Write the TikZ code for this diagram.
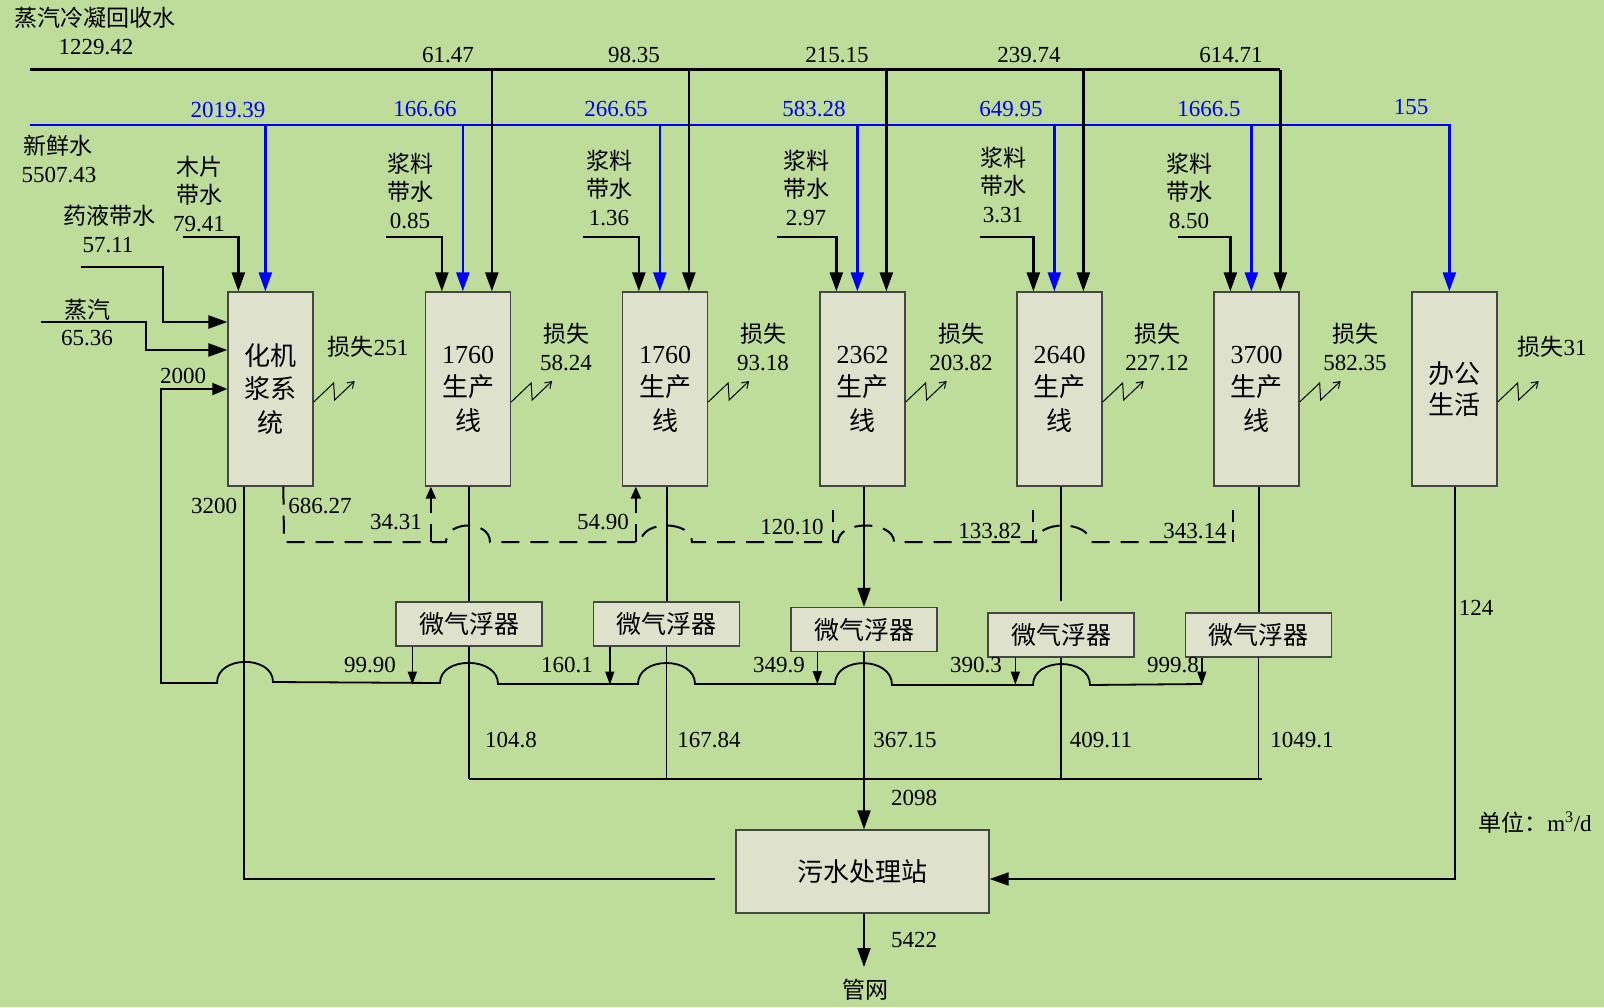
\documentclass[tikz,border=0pt]{standalone}
\usepackage{fontspec}
\setmainfont{Liberation Serif}
\newfontfamily\cjk{Noto Sans CJK SC}
\newcommand\zhtxt[1]{{\cjk #1}}
\usetikzlibrary{arrows.meta,calc}
\definecolor{bgc}{RGB}{190,220,154}
\definecolor{boxc}{RGB}{222,226,204}
\definecolor{boxl}{RGB}{70,70,70}
\definecolor{flowblue}{RGB}{0,0,255}
\begin{document}
\begin{tikzpicture}[x=1pt,y=-1pt,
  unit/.style={draw=boxl,fill=boxc,line width=1.3pt,minimum width=85pt,minimum height=194pt,inner sep=0pt,align=center,font=\fontsize{26}{33.5}\selectfont},
  flot/.style={draw=boxl,fill=boxc,line width=1.3pt,minimum width=146pt,minimum height=44pt,inner sep=0pt,font=\fontsize{25}{30}\selectfont},
  lbl/.style={inner sep=0pt,align=center,font=\fontsize{23}{28}\selectfont},
  bluelbl/.style={lbl,text=flowblue},
  mainln/.style={line width=2.4pt},
  blueln/.style={line width=2.4pt,draw=flowblue},
  midln/.style={line width=2pt},
  thinln/.style={line width=1.3pt},
  retln/.style={line width=1.8pt},
  dashln/.style={line width=2pt,dash pattern=on 18pt off 11pt},
  shortdash/.style={line width=2pt,dash pattern=on 12pt off 8pt},
  bigarr/.style={-{Triangle[length=19pt,width=13pt]}},
  medarr/.style={-{Triangle[length=15pt,width=12pt]}},
  smallarr/.style={-{Triangle[length=13pt,width=9pt]}},
  dasharr/.style={-{Triangle[length=12pt,width=10pt]}},
  zz/.style={line width=1pt,-{Straight Barb[length=6pt,width=8pt]}},
]
\fill[bgc] (0,0) rectangle (1604,1007);
\useasboundingbox (0,0) rectangle (1604,1007);

% process units
\node[unit] (box1) at (270.5,389) {\zhtxt{化机}\\\zhtxt{浆系}\\\zhtxt{统}};
\node[unit] (box2) at (468,389) {1760\\\zhtxt{生产}\\\zhtxt{线}};
\node[unit] (box3) at (665,389) {1760\\\zhtxt{生产}\\\zhtxt{线}};
\node[unit] (box4) at (862.5,389) {2362\\\zhtxt{生产}\\\zhtxt{线}};
\node[unit] (box5) at (1059.5,389) {2640\\\zhtxt{生产}\\\zhtxt{线}};
\node[unit] (box6) at (1256.5,389) {3700\\\zhtxt{生产}\\\zhtxt{线}};
\node[unit,font=\fontsize{26}{31}\selectfont] (office) at (1454.5,389) {\zhtxt{办公}\\\zhtxt{生活}};

\node[flot] (f1) at (469,624) {\zhtxt{微气浮器}};
\node[flot] (f2) at (666.5,624) {\zhtxt{微气浮器}};
\node[flot] (f3) at (864,629.5) {\zhtxt{微气浮器}};
\node[flot] (f4) at (1061,635) {\zhtxt{微气浮器}};
\node[flot] (f5) at (1258.5,635) {\zhtxt{微气浮器}};

\node[draw=boxl,fill=boxc,line width=1.3pt,minimum width=253pt,minimum height=83pt,inner sep=0pt,font=\fontsize{26}{30}\selectfont] (wwtp) at (862.5,871.5) {\zhtxt{污水处理站}};

% supply lines
\coordinate (tl) at (30,69.5);
\coordinate (bl) at (30,125);
\coordinate (office-w) at ($(office.north west)+(38,0)$);
\draw[blueln,bigarr] (bl) -| (office-w);
\coordinate (box1-w) at ($(box1.north west)+(38,0)$);
\coordinate (box1-s) at ($(box1.north west)+(11,0)$);
\coordinate (mp) at (183,237);
\draw[mainln,bigarr] (mp) -| (box1-s);
\draw[blueln,bigarr] (box1-w |- bl) -- (box1-w);
\foreach \b/\sx in {box2/386,box3/583,box4/777,box5/980,box6/1178}{
  \coordinate (\b-k) at ($(\b.north west)+(67,0)$);
  \coordinate (\b-w) at ($(\b.north west)+(38,0)$);
  \coordinate (\b-s) at ($(\b.north west)+(17,0)$);
  \coordinate (\b-in) at (\sx,237);
  \draw[mainln,bigarr] (\b-k |- tl) -- (\b-k);
  \draw[blueln,bigarr] (\b-w |- bl) -- (\b-w);
  \draw[mainln,bigarr] (\b-in) -| (\b-s);
}
\draw[mainln] (tl) -- (box6-k |- tl);

% left inputs to box1
\coordinate (yy) at (81,267);
\coordinate (b1a) at ($(box1.west)+(0,-67)$);
\draw[mainln,bigarr] (yy) -| (163,322) -- (b1a);
\coordinate (zq) at (41,322);
\coordinate (b1b) at ($(box1.west)+(0,-39)$);
\draw[mainln,bigarr] (zq) -| (146,350) -- (b1b);

% return line to box1 (2000)
\coordinate (ret) at (1202,684);
\draw[retln,medarr] (ret) -- (1090,685) .. controls (1090,657) and (1033,657) .. (1033,685)
  -- (892,685) .. controls (892,656) and (835,656) .. (835,684)
  -- (695,684) .. controls (695,656) and (638,656) .. (638,684)
  -- (498,684) .. controls (498,656) and (440,656) .. (440,683)
  -- (273,682) .. controls (273,655) and (217,655) .. (217,683)
  -- (161,683) -- (161,389) -- (box1.west);

% flotation outputs
\draw[thinln,smallarr] ($(f1.south west)+(17,0)$) -- ++(0,38);
\draw[thinln,smallarr] ($(f2.south west)+(17,0)$) -- ++(0,38);
\draw[thinln,smallarr] ($(f3.south west)+(27,0)$) -- ++(0,32);
\draw[thinln,smallarr] ($(f4.south west)+(28,0)$) -- ++(0,27);
\draw[thinln,smallarr] ($(f5.south west)+(17,0)$) -- ++(0,27);

% unit -> flotation
\draw[midln] (f1.north |- box2.south) -- (f1.north);
\draw[midln] (f2.north |- box3.south) -- (f2.north);
\draw[midln,bigarr] (f3.north |- box4.south) -- (f3.north);
\coordinate (f4gap) at ($(f4.north)+(0,-11)$);
\draw[midln] (f4.north |- box5.south) -- (f4gap);
\draw[midln] (f5.north |- box6.south) -- (f5.north);

% collector
\coordinate (collL) at (469,779);
\coordinate (collR) at (1262,779);
\draw[midln] (collL) -- (collR);
\draw[thinln] (f1.south) -- (f1.south |- collL);
\draw[thinln] (f2.south) -- (f2.south |- collL);
\draw[thinln] (f4.south) -- (f4.south |- collL);
\draw[thinln] (f5.south) -- (f5.south |- collL);
\draw[midln,bigarr] (f3.south) -- (f3.south |- wwtp.north);
\coordinate (pipe-in) at (864,967);
\draw[midln,bigarr] (f3.south |- wwtp.south) -- (pipe-in);

% 3200 and office
\coordinate (b1o) at ($(box1.south west)+(17,0)$);
\coordinate (wl) at (715,879);
\draw[midln] (b1o) |- (wl);
\coordinate (wr) at ($(wwtp.east)+(0,7.5)$);
\draw[midln,bigarr] (office.south) |- (wr);

% dashed reuse line
\coordinate (b1d) at ($(box1.south west)+(56,0)$);
\coordinate (dl) at (284,542);
\draw[dashln] (b1d) -- (dl) -- (446,542) .. controls (446,520) and (490,520) .. (490,542)
  -- (641,542) .. controls (641,520) and (692,520) .. (692,542)
  -- (838,542) .. controls (838,520) and (894,520) .. (894,542)
  -- (1036,542) .. controls (1036,520) and (1090,520) .. (1090,542)
  -- (1234,542);
\coordinate (b2d) at ($(box2.south west)+(6,0)$);
\coordinate (b3d) at ($(box3.south west)+(14,0)$);
\coordinate (b4d) at ($(box4.south west)+(14,23)$);
\coordinate (b5d) at ($(box5.south west)+(17,23)$);
\coordinate (b6d) at ($(box6.south west)+(20,23)$);
\draw[dashln,dasharr] (b2d |- dl) -- (b2d);
\draw[dashln,dasharr] (b3d |- dl) -- (b3d);
\draw[shortdash] (b4d) -- (b4d |- dl);
\draw[shortdash] (b5d) -- (b5d |- dl);
\draw[shortdash] (b6d) -- (b6d |- dl);

% loss zigzags
\foreach \b in {box1,box2,box3,box4,box5,box6,office}
  \draw[zz] ($(\b.east)+(0,13)$) -- ++(20,-19) -- ++(1,17) -- ++(20,-19);

% labels
\node[lbl] (t1) at (95,18) {\zhtxt{蒸汽冷凝回收水}};
\node[lbl] (t2) at (96,47) {1229.42};
\node[lbl] (t3) at (58,146) {\zhtxt{新鲜水}};
\node[lbl] (t4) at (59,175) {5507.43};
\node[lbl] (t5) at (199,194) {\zhtxt{木片}\\\zhtxt{带水}\\79.41};
\node[lbl] (t6) at (109,216) {\zhtxt{药液带水}};
\node[lbl] (t7) at (108,245) {57.11};
\node[lbl] (t8) at (87,310) {\zhtxt{蒸汽}};
\node[lbl] (t9) at (87,338) {65.36};
\node[lbl] (t10) at (183,376) {2000};
\node[lbl] (t11) at (214,506) {3200};
\node[lbl] (t12) at (320,506) {686.27};

\node[lbl] (k1) at (448,55) {61.47};
\node[lbl] (k2) at (634,55) {98.35};
\node[lbl] (k3) at (837,55) {215.15};
\node[lbl] (k4) at (1029,55) {239.74};
\node[lbl] (k5) at (1231,55) {614.71};

\node[bluelbl] (w1) at (228,110) {2019.39};
\node[bluelbl] (w2) at (425,109) {166.66};
\node[bluelbl] (w3) at (616,109) {266.65};
\node[bluelbl] (w4) at (814,109) {583.28};
\node[bluelbl] (w5) at (1011,109) {649.95};
\node[bluelbl] (w6) at (1209,109) {1666.5};
\node[bluelbl] (w7) at (1411,107) {155};

\node[lbl] (s2) at (410,191) {\zhtxt{浆料}\\\zhtxt{带水}\\0.85};
\node[lbl] (s3) at (609,188) {\zhtxt{浆料}\\\zhtxt{带水}\\1.36};
\node[lbl] (s4) at (806,188) {\zhtxt{浆料}\\\zhtxt{带水}\\2.97};
\node[lbl] (s5) at (1003,185) {\zhtxt{浆料}\\\zhtxt{带水}\\3.31};
\node[lbl] (s6) at (1189,191) {\zhtxt{浆料}\\\zhtxt{带水}\\8.50};

\node[lbl] (ls1) at (368,347) {\zhtxt{损失}251};
\node[lbl] (ls2) at (566,346.5) {\zhtxt{损失}\\58.24};
\node[lbl] (ls3) at (763,346.5) {\zhtxt{损失}\\93.18};
\node[lbl] (ls4) at (961,346.5) {\zhtxt{损失}\\203.82};
\node[lbl] (ls5) at (1157,346.5) {\zhtxt{损失}\\227.12};
\node[lbl] (ls6) at (1355,346.5) {\zhtxt{损失}\\582.35};
\node[lbl] (ls7) at (1552,347) {\zhtxt{损失}31};

\node[lbl] (d1) at (396,522) {34.31};
\node[lbl] (d2) at (603,522) {54.90};
\node[lbl] (d3) at (792,527) {120.10};
\node[lbl] (d4) at (990,531) {133.82};
\node[lbl] (d5) at (1195,531) {343.14};

\node[lbl] (r1) at (370,665) {99.90};
\node[lbl] (r2) at (567,665) {160.1};
\node[lbl] (r3) at (779,665) {349.9};
\node[lbl] (r4) at (976,665) {390.3};
\node[lbl] (r5) at (1173,665) {999.8};

\node[lbl] (c1) at (511,740) {104.8};
\node[lbl] (c2) at (709,740) {167.84};
\node[lbl] (c3) at (905,740) {367.15};
\node[lbl] (c4) at (1101,740) {409.11};
\node[lbl] (c5) at (1302,740) {1049.1};
\node[lbl] (c6) at (1476,608) {124};
\node[lbl] (c7) at (914,798) {2098};
\node[lbl] (c8) at (914,940) {5422};
\node[lbl] (pipe) at (865,990) {\zhtxt{管网}};
\node[lbl] (unitlbl) at (1535,823) {\zhtxt{单位：}m\textsuperscript{3}/d};
\end{tikzpicture}
\end{document}
